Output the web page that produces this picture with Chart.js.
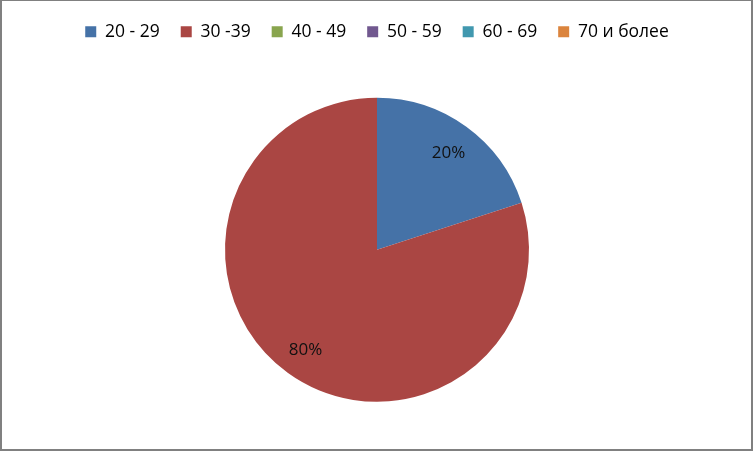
<!DOCTYPE html>
<html lang="ru">
<head>
    <meta charset="UTF-8">
    <title>Возраст</title>
    <script src="https://cdn.jsdelivr.net/npm/chart.js"></script>
    <style>
        body {
            margin: 0;
            background: #ffffff;
        }
        #box {
            width: 753px;
            height: 451px;
            box-sizing: border-box;
            border-style: solid;
            border-color: #808080;
            border-width: 1px 2px 2px 2px;
            background: #ffffff;
        }
        canvas {
            display: block;
        }
    </style>
</head>
<body>
<div id="box"><canvas id="pieChart" width="749" height="448"></canvas></div>

<script>
    // Данные
    const gruppy = ['20 - 29', '30 -39', '40 - 49', '50 - 59', '60 - 69', '70 и более'];
    const doli = [20, 80, 0, 0, 0, 0];
    const cveta = ['#4572A7', '#AA4643', '#89A54E', '#71588F', '#4198AF', '#DB843D'];

    // Подписи процентов на секторах
    const podpisi = {
        id: 'podpisi',
        afterDatasetsDraw(chart) {
            const ctx = chart.ctx;
            const meta = chart.getDatasetMeta(0);
            const vsego = doli.reduce((a, b) => a + b, 0);
            ctx.save();
            ctx.font = '17px "Open Sans", sans-serif';
            ctx.fillStyle = '#111111';
            ctx.textAlign = 'center';
            ctx.textBaseline = 'middle';
            meta.data.forEach((arc, i) => {
                if (!doli[i]) return;
                const p = arc.getProps(['x', 'y', 'startAngle', 'endAngle', 'outerRadius']);
                const a = (p.startAngle + p.endAngle) / 2;
                const r = p.outerRadius * 0.8;
                ctx.fillText(Math.round(doli[i] / vsego * 100) + '%', p.x + Math.cos(a) * r, p.y + Math.sin(a) * r + 2);
            });
            ctx.restore();
        }
    };

    new Chart(document.getElementById('pieChart'), {
        type: 'pie',
        data: {
            labels: gruppy,
            datasets: [{
                data: doli,
                backgroundColor: cveta,
                borderWidth: 0,
                radius: 152
            }]
        },
        options: {
            responsive: false,
            animation: false,
            layout: {
                padding: { top: 1, bottom: -5, left: 1 }
            },
            plugins: {
                legend: {
                    display: true,
                    position: 'top',
                    labels: {
                        boxWidth: 11,
                        boxHeight: 11,
                        padding: 21,
                        color: '#000000',
                        font: { size: 17.5, family: '"Open Sans", sans-serif' }
                    }
                },
                tooltip: { enabled: false }
            }
        },
        plugins: [podpisi]
    });
</script>
</body>
</html>
